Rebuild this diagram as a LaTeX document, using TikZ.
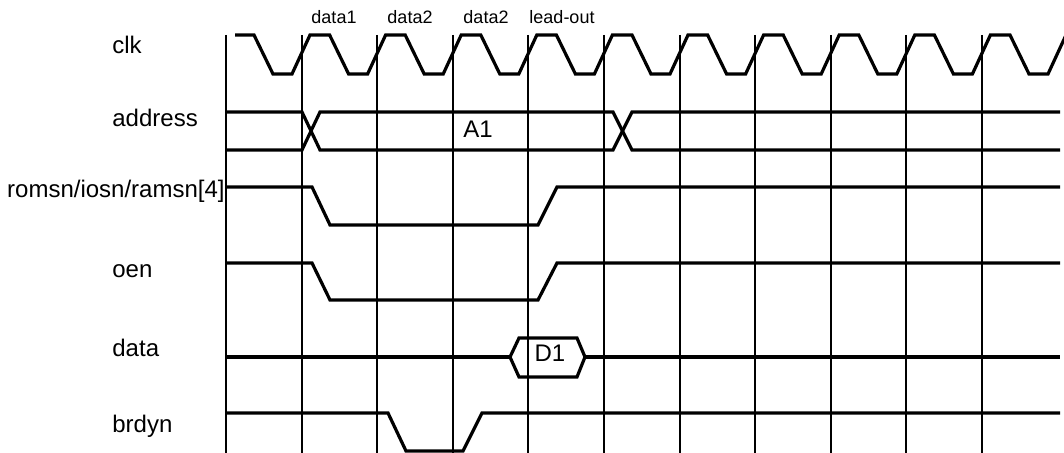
\documentclass[tikz,border=0pt]{standalone}
\usepackage{fontspec}
\setmainfont{Liberation Sans}
\usepackage{tikz}

\tikzset{
    gridline/.style={line width=1pt, black},
    wave/.style={line width=1.6pt, black, line join=miter},
    siglabel/.style={inner sep=0pt, font=\fontsize{12}{14}\selectfont},
    phaselabel/.style={inner sep=0pt, anchor=base, font=\fontsize{9}{11}\selectfont}
}

\begin{document}
\begin{tikzpicture}[x=0.5pt, y=-0.5pt]
    \useasboundingbox (0,0) rectangle (1064,453);

    % Cycle grid
    \foreach \k in {0,...,10}
        \draw[gridline] ({226+75.6*\k},35) -- ({226+75.6*\k},453);

    % Phase names
    \node[phaselabel] (ph1) at (334,24) {data1};
    \node[phaselabel] (ph2) at (410,24) {data2};
    \node[phaselabel] (ph3) at (486,24) {data2};
    \node[phaselabel] (ph4) at (562,24) {lead-out};

    % Signal names
    \node[siglabel, anchor=base west] (clkname) at (112,54) {clk};
    \node[siglabel, anchor=base west] (addrname) at (112,127) {address};
    \node[siglabel, anchor=base east] (romname) at (225,198) {romsn/iosn/ramsn[4]};
    \node[siglabel, anchor=base west] (oenname) at (112,278) {oen};
    \node[siglabel, anchor=base west] (dataname) at (112,357) {data};
    \node[siglabel, anchor=base west] (brdyname) at (112,433) {brdyn};

    % clk
    \begin{scope}
        \clip (0,0) rectangle (1064,453);
        \draw[wave] (235,35)
            foreach \k in {0,...,10} {
                -- ({226+75.6*\k+28},35) -- ({226+75.6*\k+47},74)
                -- ({226+75.6*\k+66},74) -- ({226+75.6*\k+84},35)
            };
    \end{scope}

    % address
    \draw[wave] (226,112) -- (302,112) -- (320,150) -- (613,150) -- (632,112) -- (1060,112);
    \draw[wave] (226,150) -- (302,150) -- (320,112) -- (613,112) -- (632,150) -- (1060,150);
    \node[siglabel, anchor=base] (a1) at (478,138) {A1};

    % romsn/iosn/ramsn
    \draw[wave] (226,187) -- (312,187) -- (330,225) -- (538,225) -- (557,187) -- (1060,187);

    % oen
    \draw[wave] (226,263) -- (312,263) -- (330,300) -- (538,300) -- (557,263) -- (1060,263);

    % data
    \draw[wave] (226,357) -- (510,357);
    \draw[wave] (510,357) -- (519,338) -- (577,338) -- (585,357)
        -- (577,377) -- (519,377) -- cycle;
    \draw[wave] (585,357) -- (1060,357);
    \node[siglabel, anchor=base] (d1) at (550,362) {D1};

    % brdyn
    \draw[wave] (226,413) -- (388,413) -- (406,451) -- (463,451) -- (482,413) -- (1060,413);
\end{tikzpicture}
\end{document}
